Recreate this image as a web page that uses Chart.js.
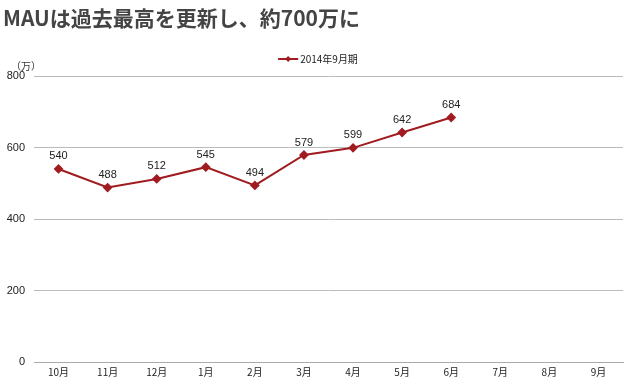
<!DOCTYPE html>
<html>
<head>
<meta charset="utf-8">
<script src="https://cdn.jsdelivr.net/npm/chart.js@4"></script>
<style>
  html, body { margin: 0; padding: 0; background: #fff; }
  #wrap { position: relative; width: 630px; height: 386px; }
  #title {
    position: absolute; left: 3px; top: 3px;
    font-family: "Noto Sans CJK JP", "Noto Sans", sans-serif;
    font-weight: bold; font-size: 21px; color: #444; line-height: 28px;
  }
  #unit {
    position: absolute; left: 11px; top: 58px;
    font-family: "Noto Sans CJK JP", sans-serif; font-size: 10px; color: #333;
  }
</style>
</head>
<body>
<div id="wrap">
  <canvas id="chart" width="630" height="386"></canvas>
  <div id="title">MAUは過去最高を更新し、約700万に</div>
  <div id="unit">（万）</div>
</div>
<script>
// Data
const months = ['10月', '11月', '12月', '1月', '2月', '3月', '4月', '5月', '6月', '7月', '8月', '9月'];
const mau = [540, 488, 512, 545, 494, 579, 599, 642, 684, null, null, null];
const seriesName = '2014年9月期';
const yTicks = [0, 200, 400, 600, 800];

const lineColor = '#a01c20';
const labelFont = '11px "Liberation Sans", Arial, sans-serif';

// value labels above points
const valueLabels = {
    id: 'valueLabels',
    afterDatasetsDraw(chart) {
        const ctx = chart.ctx;
        const meta = chart.getDatasetMeta(0);
        ctx.save();
        ctx.font = labelFont;
        ctx.fillStyle = '#222';
        ctx.textAlign = 'center';
        ctx.textBaseline = 'bottom';
        meta.data.forEach((pt, i) => {
            const v = chart.data.datasets[0].data[i];
            if (v == null) return;
            ctx.fillText(String(v), pt.x, pt.y - 7);
        });
        ctx.restore();
    }
};

// legend: short line with diamond + series name
const lineLegend = {
    id: 'lineLegend',
    afterDraw(chart) {
        const ctx = chart.ctx;
        ctx.save();
        ctx.font = '10px "Noto Sans CJK JP", sans-serif';
        const text = chart.data.datasets[0].label;
        const tw = ctx.measureText(text).width;
        const sw = 20;
        const total = sw + 2 + tw;
        const x0 = 318 - total / 2;
        const y = 59;
        ctx.strokeStyle = lineColor;
        ctx.lineWidth = 2;
        ctx.beginPath();
        ctx.moveTo(x0, y);
        ctx.lineTo(x0 + sw, y);
        ctx.stroke();
        ctx.fillStyle = lineColor;
        ctx.beginPath();
        const cx = x0 + sw / 2;
        ctx.moveTo(cx, y - 3);
        ctx.lineTo(cx + 3, y);
        ctx.lineTo(cx, y + 3);
        ctx.lineTo(cx - 3, y);
        ctx.closePath();
        ctx.fill();
        ctx.fillStyle = '#222';
        ctx.textBaseline = 'middle';
        ctx.fillText(text, x0 + sw + 2, y);
        ctx.restore();
    }
};

new Chart(document.getElementById('chart'), {
    type: 'line',
    data: {
        labels: months,
        datasets: [{
            label: seriesName,
            data: mau,
            borderColor: lineColor,
            backgroundColor: lineColor,
            borderWidth: 2,
            pointStyle: 'rectRot',
            pointRadius: 3.5,
            pointHoverRadius: 3.5,
            tension: 0
        }]
    },
    options: {
        responsive: false,
        animation: false,
        events: [],
        layout: { padding: { top: 76, right: 7, left: 0, bottom: 0 } },
        scales: {
            x: {
                offset: true,
                grid: { display: false, drawTicks: false, offset: true },
                border: { display: true, color: '#aaa', width: 1 },
                ticks: { color: '#222', font: { size: 10, family: '"Noto Sans CJK JP", sans-serif' }, padding: 4 },
                afterFit: s => { s.height = 24; }
            },
            y: {
                min: 0,
                max: 800,
                afterBuildTicks: s => { s.ticks = yTicks.map(v => ({ value: v })); },
                grid: { color: '#bbb', drawTicks: false },
                border: { display: false },
                ticks: { color: '#222', font: { size: 11, family: '"Liberation Sans", Arial, sans-serif' }, padding: 9 },
                afterFit: s => { s.width = 34; }
            }
        },
        plugins: {
            legend: { display: false },
            title: { display: false },
            tooltip: { enabled: false }
        }
    },
    plugins: [valueLabels, lineLegend]
});
</script>
</body>
</html>
